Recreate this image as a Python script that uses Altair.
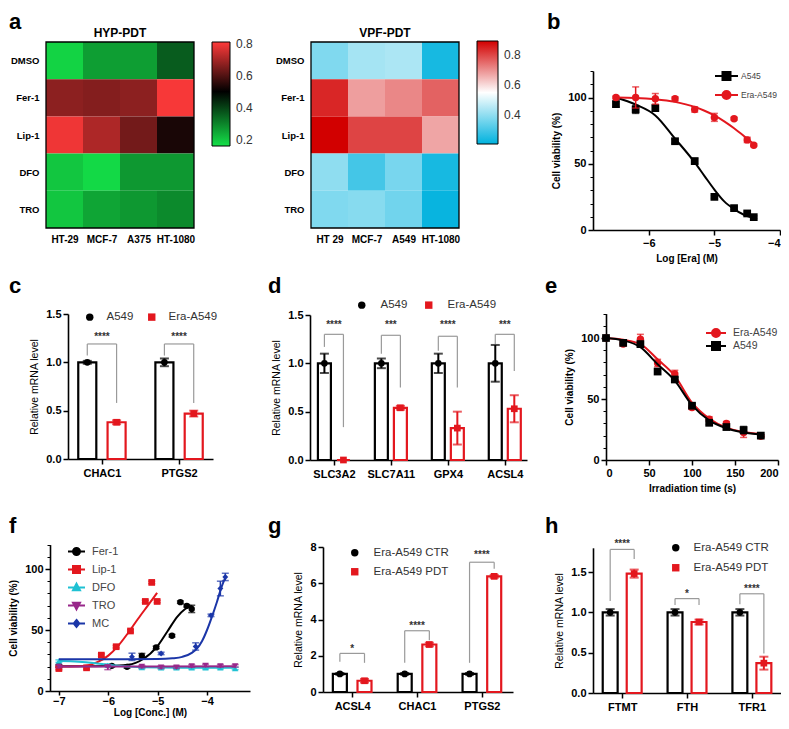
import json
import altair as alt
import pandas as pd

W, H = 773, 713
M = 8
FONT = "Liberation Sans"
LFONT = "Liberation Sans"
RED = "#e3171e"

# ---------------- data ----------------
heat_rows = ["DMSO", "Fer-1", "Lip-1", "DFO", "TRO"]
hyp_cols = ["HT-29", "MCF-7", "A375", "HT-1080"]
hyp_vals = [[0.18, 0.26, 0.26, 0.36],
            [0.67, 0.66, 0.67, 0.80],
            [0.79, 0.71, 0.64, 0.53],
            [0.20, 0.17, 0.27, 0.27],
            [0.20, 0.25, 0.27, 0.29]]
hyp_ticks = [0.2, 0.4, 0.6, 0.8]
vpf_cols = ["HT 29", "MCF-7", "A549", "HT-1080"]
vpf_vals = [[0.38, 0.43, 0.44, 0.24],
            [0.84, 0.68, 0.71, 0.76],
            [0.89, 0.80, 0.80, 0.67],
            [0.40, 0.30, 0.37, 0.24],
            [0.38, 0.39, 0.36, 0.22]]
vpf_ticks = [0.4, 0.6, 0.8]

# b
b_names = ["A545", "Era-A549"]
b_x = [-6.5, -6.2, -5.9, -5.6, -5.3, -5.0, -4.7, -4.5, -4.4]
b_a545 = [95, 91, 92, 67, 52, 25, 16.5, 12.5, 9.7]
b_a545_err = [2, 3, 2, 1.5, 2, 1, 1, 1, 1]
b_era = [100, 100, 99, 99, 91, 85, 84, 68, 64]
b_era_err = [1, 8, 4, 1.5, 2, 3, 1, 2, 1]
b_cx = [-6.5, -6.2, -5.9, -5.6, -5.3, -5.15, -5.0, -4.85, -4.7, -4.55, -4.4]
b_a545_c = [100, 94.7, 86.5, 69, 51, 40.7, 30.5, 21.6, 15.8, 11.5, 9]
b_era_c = [100, 99.7, 98.7, 96.7, 92.9, 90, 86.5, 82, 76.8, 71, 64.9]

# c
c_cats = ["CHAC1", "PTGS2"]
c_groups = ["A549", "Era-A549"]
c_ctr = [1.0, 1.0]
c_ctr_err = [0.015, 0.04]
c_trt = [0.38, 0.47]
c_trt_err = [0.02, 0.03]
c_brk = [[1.19, 1.07, 0.58], [1.19, 1.07, 0.58]]
c_star = ["****", "****"]
c_star_y = [1.28, 1.28]

# d
d_cats = ["SLC3A2", "SLC7A11", "GPX4", "ACSL4"]
d_ctr = [1.0, 1.0, 1.0, 1.0]
d_ctr_err = [0.1, 0.05, 0.1, 0.19]
d_trt = [0.0, 0.54, 0.33, 0.53]
d_trt_err = [0.0, 0.02, 0.17, 0.14]
d_brk = [[1.30, 1.17, 0.34], [1.29, 1.10, 0.75], [1.28, 1.13, 0.75], [1.30, 1.20, 0.92]]
d_star = ["****", "***", "****", "***"]
d_star_y = [1.42, 1.42, 1.42, 1.42]

# e
e_names = ["Era-A549", "A549"]
e_x = [0, 20, 40, 60, 80, 100, 120, 140, 160, 180]
e_era = [100, 95, 99, 79.5, 70.5, 43, 33.5, 30, 22.5, 19.5]
e_era_err = [1, 1.5, 4, 3, 3, 1.5, 2, 1.5, 4, 1]
e_a549 = [100, 96, 95, 72.5, 66, 44.5, 30.5, 27, 24.5, 20]
e_a549_err = [1, 1, 2, 2, 2, 1.5, 1.5, 1, 3, 1]
e_cx = [0, 20, 40, 60, 80, 100, 120, 140, 160, 180]
e_era_c = [100, 98.5, 95, 82.5, 69, 47, 34, 26.5, 23, 21.5]
e_a549_c = [100, 98, 92.5, 78.5, 65, 45, 32.5, 26, 22.5, 21]

# f
fer_x = [-7, -5.93, -5.62, -5.32, -5.03, -4.71, -4.54, -4.41, -4.31]
fer_y = [20.6, 20.6, 19.8, 28.8, 35.7, 45.3, 72.8, 69.8, 67.3]
fer_err = [1, 1, 1, 2, 1, 1, 1, 1, 3]
fer_cx = [-7, -6.5, -6, -5.6, -5.3, -5.0, -4.8, -4.6, -4.45, -4.31]
fer_cy = [20.3, 20.3, 20.5, 21.5, 26, 37, 49, 61, 67, 70]
lip_x = [-7, -6.44, -6.14, -5.84, -5.55, -5.25, -5.12, -5.01]
lip_y = [18.4, 19, 29.4, 36.3, 49.2, 73.4, 89, 73.4]
lip_err = [1, 1, 1, 1, 1, 1, 1, 1]
lip_cx = [-7, -6.6, -6.4, -6.2, -6.0, -5.8, -5.6, -5.4, -5.2, -5.01]
lip_cy = [20, 20.3, 21.2, 24, 29, 37, 47.5, 59, 70, 80.5]
dfo_x = [-7, -6.01, -5.32, -4.93, -4.62, -4.31, -4.03, -3.73, -3.43]
dfo_y = [24.5, 21, 19.2, 19, 19, 19, 19, 19, 18.5]
dfo_err = [1, 1, 1, 1, 1, 1, 1, 1, 1]
dfo_cx = [-7, -6.6, -6.3, -6.0, -5.7, -5.3, -4.5, -3.43]
dfo_cy = [24.5, 24, 23, 21.5, 20.2, 19.4, 19, 19]
tro_x = [-7, -6.01, -5.32, -4.93, -4.62, -4.31, -4.03, -3.73, -3.43]
tro_y = [20, 19.5, 20, 19.5, 19.5, 20.5, 21, 20.6, 20.6]
tro_err = [1, 2, 1, 1, 1, 1, 1, 1, 1]
tro_cx = [-7, -5.0, -3.43]
tro_cy = [20, 20.1, 20.3]
mc_x = [-5.52, -4.93, -4.23, -3.92, -3.73, -3.63]
mc_y = [28, 30.8, 36.5, 62, 84, 93.5]
mc_err = [3, 1, 3, 1, 6, 3]
mc_cx = [-7, -6, -5, -4.7, -4.5, -4.3, -4.2, -4.1, -4.0, -3.9, -3.8, -3.7, -3.63]
mc_cy = [26, 26, 26.2, 26.8, 28, 31.5, 35, 41, 50, 61, 73, 86, 93]

# g
g_cats = ["ACSL4", "CHAC1", "PTGS2"]
g_groups = ["Era-A549 CTR", "Era-A549 PDT"]
g_ctr = [1.0, 1.0, 1.0]
g_ctr_err = [0.05, 0.05, 0.05]
g_trt = [0.62, 2.62, 6.38]
g_trt_err = [0.1, 0.1, 0.08]
g_brk = [[2.13, 1.67, 1.61], [3.38, 1.61, 2.86], [7.16, 1.61, 6.8]]
g_star = ["*", "****", "****"]
g_star_y = [2.5, 3.74, 7.67]

# h
h_cats = ["FTMT", "FTH", "TFR1"]
h_ctr = [1.0, 1.0, 1.0]
h_ctr_err = [0.04, 0.04, 0.04]
h_trt = [1.48, 0.88, 0.37]
h_trt_err = [0.05, 0.03, 0.08]
h_brk = [[1.78, 1.14, 1.66], [1.17, 1.09, 1.09], [1.23, 1.10, 0.49]]
h_star = ["****", "*", "****"]
h_star_y = [1.87, 1.25, 1.31]


# ---------------- helpers ----------------
def px(v):
    return v - M


def py(v):
    return v - M


def axis(**kw):
    base = dict(grid=False, labelFont=FONT, labelFontSize=11, labelFontWeight="bold",
                labelColor="black", titleFont=FONT, titleFontSize=10, titleFontWeight="bold",
                titleColor="black", domainColor="black", domainWidth=1.6, tickColor="black",
                tickWidth=1.5, tickSize=5, labelPadding=2)
    base.update(kw)
    return alt.Axis(**base)


def xaxis(ybot, **kw):
    return axis(orient="bottom", offset=py(ybot) - H, **kw)


def yaxis(xleft, **kw):
    return axis(orient="left", offset=-px(xleft), **kw)


def text_at(txt, x, y, **mk):
    return alt.Chart(pd.DataFrame({"t": [txt]})).mark_text(**mk).encode(
        text="t:N", x=alt.value(px(x)), y=alt.value(py(y)))


def letter(ch, x, y):
    return text_at(ch, x, y, font=LFONT, fontSize=22, fontWeight="bold", align="left",
                   baseline="alphabetic", color="black")


def sym_path(shape, m):
    r = lambda v: f"{v:.3f}"
    line = "M-1,0L1,0"
    if shape == "square":
        mk = f"M{r(-m)},{r(-m)}L{r(m)},{r(-m)}L{r(m)},{r(m)}L{r(-m)},{r(m)}Z"
    elif shape == "circle":
        mk = f"M{r(m)},0A{r(m)},{r(m)},0,1,1,{r(-m)},0A{r(m)},{r(m)},0,1,1,{r(m)},0Z"
    elif shape == "triangle-up":
        mk = f"M0,{r(-1.1*m)}L{r(m)},{r(0.8*m)}L{r(-m)},{r(0.8*m)}Z"
    elif shape == "triangle-down":
        mk = f"M0,{r(1.1*m)}L{r(m)},{r(-0.8*m)}L{r(-m)},{r(-0.8*m)}Z"
    else:
        mk = f"M0,{r(-m)}L{r(0.8*m)},0L0,{r(m)}L{r(-0.8*m)},0Z"
    return line + mk


def heatmap(rows, cols, vals, box, title, cdom, crange, ticks, leg):
    x0, x1, y0, y1 = box
    recs = []
    for i, r in enumerate(rows):
        for j, c in enumerate(cols):
            recs.append({"row": r, "col": c, "ri": i, "ci": j, "v": vals[i][j]})
    df = pd.DataFrame(recs)
    xs = alt.Scale(domain=[0, len(cols)], range=[px(x0), px(x1)], nice=False, zero=False)
    ys = alt.Scale(domain=[0, len(rows)], range=[py(y0), py(y1)], nice=False, zero=False)
    xa = xaxis(y1, values=[j + 0.5 for j in range(len(cols))],
               labelExpr=f"{json.dumps(cols)}[floor(datum.value)]", ticks=False, domain=False,
               title=None, labelPadding=6, labelFontSize=10)
    ya = yaxis(x0, values=[i + 0.5 for i in range(len(rows))],
               labelExpr=f"{json.dumps(rows)}[floor(datum.value)]", ticks=False, domain=False,
               title=None, labelPadding=7, labelFontSize=9.5)
    lx, ly, llen, lth = leg
    cells = alt.Chart(df).transform_calculate(ci2="datum.ci + 1", ri2="datum.ri + 1").mark_rect().encode(
        x=alt.X("ci:Q", scale=xs, axis=xa), x2="ci2:Q",
        y=alt.Y("ri:Q", scale=ys, axis=ya), y2="ri2:Q",
        color=alt.Color("v:Q", scale=alt.Scale(domain=cdom, range=crange, interpolate="rgb",
                                               nice=False, zero=False),
                        legend=alt.Legend(orient="none", legendX=px(lx), legendY=py(ly),
                                          direction="vertical", title=None, gradientLength=llen,
                                          gradientThickness=lth, values=ticks, format=".1f",
                                          labelFont=FONT, labelFontSize=12, labelColor="#333",
                                          labelOffset=6, gradientStrokeColor="black",
                                          gradientStrokeWidth=1, padding=0)))
    frame = alt.Chart(pd.DataFrame({"a": [0], "b": [len(cols)], "c": [0], "d": [len(rows)]})).mark_rect(
        fillOpacity=0, stroke="black", strokeWidth=1.3).encode(
        x=alt.X("a:Q", scale=xs, axis=None), x2="b:Q",
        y=alt.Y("c:Q", scale=ys, axis=None), y2="d:Q")
    ttl = text_at(title, (x0 + x1) / 2, 33, font=FONT, fontSize=12, fontWeight="bold",
                  baseline="middle", color="black")
    return alt.layer(cells, frame, ttl).resolve_axis(x="independent", y="independent")


def curve_panel(series, xdom, xr, ydom, yr, xticks, yticks, xtitle, ytitle, leg, xax_kw=None):
    xs = alt.Scale(domain=xdom, range=[px(xr[0]), px(xr[1])], nice=False, zero=False)
    ys = alt.Scale(domain=ydom, range=[py(yr[0]), py(yr[1])], nice=False, zero=False)
    xkw = dict(values=xticks, title=xtitle, format="d", titlePadding=5)
    xkw.update(xax_kw or {})
    xa = xaxis(yr[0], **xkw)
    ya = yaxis(xr[0], values=yticks, title=ytitle, format="d", titlePadding=6)
    minor = yaxis(xr[0], values=list(range(int(ydom[0]), int(ydom[1]) + 1, 10)), labels=False,
                  domain=False, title=None, tickSize=3, tickWidth=1)
    layers = []
    for k, s in enumerate(series):
        cdf = pd.DataFrame({"x": s["cx"], "y": s["cy"]})
        layers.append(alt.Chart(cdf).mark_line(color=s["color"], strokeWidth=2,
                                               interpolate="monotone").encode(
            x=alt.X("x:Q", scale=xs, axis=xa if k == 0 else None),
            y=alt.Y("y:Q", scale=ys, axis=ya if k == 0 else None)))
        pdf = pd.DataFrame({"x": s["x"], "y": s["y"], "e": s["err"]})
        pdf["lo"] = pdf["y"] - pdf["e"]
        pdf["hi"] = pdf["y"] + pdf["e"]
        base = alt.Chart(pdf)
        layers.append(base.mark_rule(color=s["color"], strokeWidth=1.5).encode(
            x=alt.X("x:Q", scale=xs, axis=None), y=alt.Y("lo:Q", scale=ys, axis=None), y2="hi:Q"))
        for col in ["lo", "hi"]:
            layers.append(base.mark_tick(color=s["color"], orient="horizontal", size=7,
                                         thickness=1.5).encode(
                x=alt.X("x:Q", scale=xs, axis=None), y=alt.Y(f"{col}:Q", scale=ys, axis=None)))
        layers.append(base.mark_point(filled=True, shape=s["shape"], size=s.get("size", 50),
                                      color=s["color"], opacity=1).encode(
            x=alt.X("x:Q", scale=xs, axis=None), y=alt.Y("y:Q", scale=ys, axis=None)))
    # minor ticks
    layers.append(alt.Chart(pd.DataFrame({"v": [ydom[0]]})).mark_point(opacity=0).encode(
        y=alt.Y("v:Q", scale=ys, axis=minor)))
    # legend layer
    names = [s["name"] for s in series]
    colors = [s["color"] for s in series]
    lx, ly, lsize, mhalf, clip_h, rowpad, loff, lfs = leg
    m = mhalf / (lsize ** 0.5 / 2)
    paths = [sym_path(s["shape"], m) for s in series]
    lg = alt.Legend(orient="none", legendX=px(lx), legendY=py(ly), title=None, symbolSize=lsize,
                    symbolStrokeWidth=2, labelFont=FONT, labelFontSize=lfs, labelColor="#444",
                    rowPadding=rowpad, clipHeight=clip_h, padding=0, labelOffset=loff,
                    direction="vertical", symbolOpacity=1, symbolFillColor="black")
    ldf = pd.DataFrame({"name": names, "x": [s["x"][0] for s in series], "y": [s["y"][0] for s in series]})
    layers.append(alt.Chart(ldf).mark_point(filled=True, opacity=0).encode(
        x=alt.X("x:Q", scale=xs, axis=None), y=alt.Y("y:Q", scale=ys, axis=None),
        fill=alt.Fill("name:N", scale=alt.Scale(domain=names, range=colors), legend=lg),
        stroke=alt.Stroke("name:N", scale=alt.Scale(domain=names, range=colors), legend=lg),
        shape=alt.Shape("name:N", scale=alt.Scale(domain=names, range=paths), legend=lg)))
    return alt.layer(*layers).resolve_axis(x="independent", y="independent")


def bar_panel(cats, groups, ctr, ctr_err, trt, trt_err, brk, stars, star_y, xdom, xr, ydom, yr,
              yticks, yfmt, off, hw, leg):
    colors = ["black", RED]
    rows = []
    for i, c in enumerate(cats):
        for k, (g, vals, errs, o) in enumerate([(groups[0], ctr, ctr_err, -off),
                                                (groups[1], trt, trt_err, off)]):
            rows.append(dict(cat=c, g=g, col=colors[k], xc=i + o, x0=i + o - hw, x1=i + o + hw,
                             m=vals[i], lo=vals[i] - errs[i], hi=vals[i] + errs[i]))
    df = pd.DataFrame(rows)
    xs = alt.Scale(domain=xdom, range=[px(xr[0]), px(xr[1])], nice=False, zero=False)
    ys = alt.Scale(domain=ydom, range=[py(yr[0]), py(yr[1])], nice=False, zero=False)
    xa = xaxis(yr[0], values=list(range(len(cats))),
               labelExpr=f"{json.dumps(cats)}[round(datum.value)]", title=None, labelPadding=3)
    ya = yaxis(xr[0], values=yticks, format=yfmt, title="Relative mRNA level", titlePadding=6,
               titleFontWeight="normal", titleFontSize=10.5)
    base = alt.Chart(df)
    bars = base.mark_bar(fill="white", strokeWidth=2.2).encode(
        x=alt.X("x0:Q", scale=xs, axis=xa), x2="x1:Q",
        y=alt.Y("m:Q", scale=ys, axis=ya), y2=alt.datum(0),
        stroke=alt.Stroke("col:N", scale=None))
    err = base.mark_rule(strokeWidth=2).encode(
        x=alt.X("xc:Q", scale=xs, axis=None), y=alt.Y("lo:Q", scale=ys, axis=None), y2="hi:Q",
        color=alt.Color("col:N", scale=None))
    caps = [base.mark_tick(orient="horizontal", size=9, thickness=2).encode(
        x=alt.X("xc:Q", scale=xs, axis=None), y=alt.Y(f"{c}:Q", scale=ys, axis=None),
        color=alt.Color("col:N", scale=None)) for c in ["lo", "hi"]]
    lx, ly, direction, rowpad, colpad, loff = leg
    lg = alt.Legend(orient="none", legendX=px(lx), legendY=py(ly), title=None, direction=direction,
                    symbolSize=55, labelFont=FONT, labelFontSize=11.5, labelColor="#333",
                    rowPadding=rowpad, columnPadding=colpad, labelOffset=loff, padding=0,
                    symbolStrokeWidth=0, symbolOpacity=1, symbolFillColor="black")
    pts = base.mark_point(filled=True, size=45, opacity=1).encode(
        x=alt.X("xc:Q", scale=xs, axis=None), y=alt.Y("m:Q", scale=ys, axis=None),
        fill=alt.Fill("g:N", scale=alt.Scale(domain=groups, range=colors), legend=lg),
        shape=alt.Shape("g:N", scale=alt.Scale(domain=groups, range=["circle", "square"]), legend=lg))
    # significance brackets
    vr, hr, tr = [], [], []
    for i, (hy, ll, rl) in enumerate(brk):
        vr.append(dict(x=i - off, y=ll, y2=hy))
        vr.append(dict(x=i + off, y=rl, y2=hy))
        hr.append(dict(x=i - off, x2=i + off, y=hy))
        tr.append(dict(x=i, y=star_y[i], t=stars[i]))
    vlegs = alt.Chart(pd.DataFrame(vr)).mark_rule(color="#9a9a9a", strokeWidth=1.2).encode(
        x=alt.X("x:Q", scale=xs, axis=None), y=alt.Y("y:Q", scale=ys, axis=None), y2="y2:Q")
    hlegs = alt.Chart(pd.DataFrame(hr)).mark_rule(color="#9a9a9a", strokeWidth=1.2).encode(
        x=alt.X("x:Q", scale=xs, axis=None), x2="x2:Q", y=alt.Y("y:Q", scale=ys, axis=None))
    txt = alt.Chart(pd.DataFrame(tr)).mark_text(font=FONT, fontSize=10, fontWeight="bold",
                                                color="#333", baseline="alphabetic", dy=5).encode(
        x=alt.X("x:Q", scale=xs, axis=None), y=alt.Y("y:Q", scale=ys, axis=None), text="t:N")
    return alt.layer(bars, err, *caps, pts, vlegs, hlegs, txt).resolve_axis(x="independent", y="independent")


# ---------------- panels ----------------
pa1 = heatmap(heat_rows, hyp_cols, hyp_vals, (46, 194, 42, 228), "HYP-PDT",
              [0.16, 0.5, 0.81], ["#14e048", "#000000", "#ff3a3a"], hyp_ticks, (212, 42, 104, 18))
pa2 = heatmap(heat_rows, vpf_cols, vpf_vals, (311, 459, 42, 228), "VPF-PDT",
              [0.21, 0.55, 0.89], ["#00b2de", "#ffffff", "#d20000"], vpf_ticks, (477, 41, 103, 21))

pb = curve_panel(
    [dict(name=b_names[0], color="black", shape="square", x=b_x, y=b_a545, err=b_a545_err,
          cx=b_cx, cy=b_a545_c, size=60),
     dict(name=b_names[1], color=RED, shape="circle", x=b_x, y=b_era, err=b_era_err,
          cx=b_cx, cy=b_era_c, size=55)],
    [-6.85, -4], (593, 780), [0, 120], (230, 71), [-6, -5, -4], [0, 50, 100],
    "Log [Era] (M)", "Cell viability (%)", (714, 69, 529, 4, 14, 5, 2, 8.5))

pc = bar_panel(c_cats, c_groups, c_ctr, c_ctr_err, c_trt, c_trt_err, c_brk, c_star, c_star_y,
               [-0.44, 1.44], (68, 213), [0, 1.5], (459, 314), [0, 0.5, 1.0, 1.5], ".1f", 0.19, 0.117,
               (84, 311, "horizontal", 4, 12, 11))
pd_ = bar_panel(d_cats, c_groups, d_ctr, d_ctr_err, d_trt, d_trt_err, d_brk, d_star, d_star_y,
                [-0.42, 3.39], (310, 527), [0, 1.5], (460, 315), [0, 0.5, 1.0, 1.5], ".1f", 0.167, 0.114,
                (356, 299, "horizontal", 4, 15, 13))

pe = curve_panel(
    [dict(name=e_names[0], color=RED, shape="circle", x=e_x, y=e_era, err=e_era_err,
          cx=e_cx, cy=e_era_c, size=55),
     dict(name=e_names[1], color="black", shape="square", x=e_x, y=e_a549, err=e_a549_err,
          cx=e_cx, cy=e_a549_c, size=60)],
    [0, 200], (606, 778), [0, 120], (460, 313.6), [0, 50, 100, 150, 200], [0, 50, 100],
    "Irradiation time (s)", "Cell viability (%)", (705, 327, 400, 4, 12, 1, 6, 10.5))

pf = curve_panel(
    [dict(name="Fer-1", color="black", shape="circle", x=fer_x, y=fer_y, err=fer_err,
          cx=fer_cx, cy=fer_cy, size=40),
     dict(name="Lip-1", color=RED, shape="square", x=lip_x, y=lip_y, err=lip_err,
          cx=lip_cx, cy=lip_cy, size=45),
     dict(name="DFO", color="#1fc1d3", shape="triangle-up", x=dfo_x, y=dfo_y, err=dfo_err,
          cx=dfo_cx, cy=dfo_cy, size=40),
     dict(name="TRO", color="#98288a", shape="triangle-down", x=tro_x, y=tro_y, err=tro_err,
          cx=tro_cx, cy=tro_cy, size=40),
     dict(name="MC", color="#1b36a8", shape="diamond", x=mc_x, y=mc_y, err=mc_err,
          cx=mc_cx, cy=mc_cy, size=35)],
    [-7.18, -3.13], (50, 250), [0, 120], (691, 544.6), [-7, -6, -5, -4], [0, 50, 100],
    "Log [Conc.] (M)", "Cell viability (%)", (67, 545, 289, 3.5, 13, 5, 6, 11),
    xax_kw=dict(tickSize=4, labelPadding=0, titlePadding=1))

pg = bar_panel(g_cats, g_groups, g_ctr, g_ctr_err, g_trt, g_trt_err, g_brk, g_star, g_star_y,
               [-0.45, 2.48], (323, 513), [0, 8], (692, 547), [0, 2, 4, 6, 8], "d", 0.19, 0.108,
               (349, 547, "vertical", 6, 10, 13))
ph = bar_panel(h_cats, g_groups, h_ctr, h_ctr_err, h_trt, h_trt_err, h_brk, h_star, h_star_y,
               [-0.45, 2.48], (593, 783), [0, 1.8], (693, 547.8), [0, 0.5, 1.0, 1.5], ".1f", 0.185, 0.115,
               (670, 542, "vertical", 7, 10, 12))

letters = [letter("a", 9, 29), letter("b", 547, 29), letter("c", 9, 293), letter("d", 268, 293),
           letter("e", 545, 293), letter("f", 9, 533), letter("g", 268, 533), letter("h", 545, 533)]

chart = alt.layer(pa1, pa2, pb, pc, pd_, pe, pf, pg, ph, *letters).resolve_scale(
    x="independent", y="independent", color="independent", fill="independent",
    stroke="independent", shape="independent").resolve_axis(
    x="independent", y="independent").resolve_legend(
    color="independent", fill="independent", stroke="independent", shape="independent").properties(
    width=W, height=H, padding=0, autosize=alt.AutoSizeParams(type="none")).configure_view(stroke=None)

chart.save("out.html", embed_options={"renderer": "svg", "actions": False})
